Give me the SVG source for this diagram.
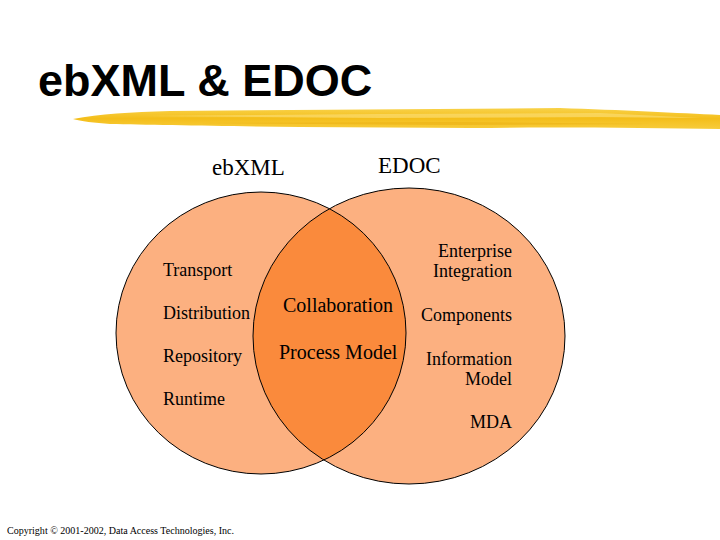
<svg xmlns="http://www.w3.org/2000/svg" width="720" height="540" viewBox="0 0 720 540">
<style>
.title{font-family:"Liberation Sans",Arial,sans-serif;font-weight:bold;font-size:45px;fill:#000}
.hdr{font-family:"Liberation Serif","Times New Roman",serif;font-size:23px;fill:#000}
.lbl{font-family:"Liberation Serif","Times New Roman",serif;font-size:18px;fill:#000}
.mid{font-family:"Liberation Serif","Times New Roman",serif;font-size:20px;fill:#000}
.r{text-anchor:end}
.copy{font-family:"Liberation Serif","Times New Roman",serif;font-size:10px;fill:#000}
.outline{fill:none;stroke:#000;stroke-width:1}
</style>
<defs>
<clipPath id="leftClip"><ellipse cx="261" cy="333" rx="145" ry="141"/></clipPath>
<linearGradient id="brush" x1="0" y1="0" x2="0" y2="1">
<stop offset="0" stop-color="#F8D24A"/>
<stop offset="0.5" stop-color="#F4BE1A"/>
<stop offset="1" stop-color="#F7CC3C"/>
</linearGradient>
</defs>
<rect width="720" height="540" fill="#fff"/>
<g id="title">
<text class="title" x="38" y="96">ebXML &amp; EDOC</text>
<path d="M73,119 C100,114 130,112 170,111 L560,108 C620,110 680,113 720,115 L720,129 C650,128 560,127 470,128 L300,127 C220,126 150,125 110,124 C95,123 80,121 73,119 Z" fill="url(#brush)"/>
<path d="M140,116 L380,114 L600,113 L700,118 L600,117 L380,118 Z" fill="#FBE07A" opacity="0.6"/>
<path d="M200,123 L450,122 L650,124 L450,125 Z" fill="#E9AE10" opacity="0.5"/>
</g>
<g id="ebxml-circle">
<ellipse cx="261" cy="333" rx="145" ry="141" fill="#FCB080"/>
</g>
<g id="edoc-circle">
<ellipse cx="409" cy="336" rx="156" ry="148" fill="#FCB080"/>
</g>
<g id="overlap">
<ellipse cx="409" cy="336" rx="156" ry="148" fill="#FA8A3C" clip-path="url(#leftClip)"/>
</g>
<g id="outlines">
<ellipse class="outline" cx="261" cy="333" rx="145" ry="141"/>
<ellipse class="outline" cx="409" cy="336" rx="156" ry="148"/>
</g>
<g id="headers">
<text class="hdr" x="212" y="175">ebXML</text>
<text class="hdr" x="378" y="173">EDOC</text>
</g>
<g id="ebxml-items">
<text class="lbl" x="163" y="276">Transport</text>
<text class="lbl" x="163" y="319">Distribution</text>
<text class="lbl" x="163" y="362">Repository</text>
<text class="lbl" x="163" y="405">Runtime</text>
</g>
<g id="shared-items">
<text class="mid" x="283" y="312">Collaboration</text>
<text class="mid" x="279" y="359">Process Model</text>
</g>
<g id="edoc-items">
<text class="lbl r" x="512" y="257">Enterprise</text>
<text class="lbl r" x="512" y="277">Integration</text>
<text class="lbl r" x="512" y="321">Components</text>
<text class="lbl r" x="512" y="365">Information</text>
<text class="lbl r" x="512" y="385">Model</text>
<text class="lbl r" x="512" y="428">MDA</text>
</g>
<text class="copy" x="7" y="534" textLength="227" lengthAdjust="spacingAndGlyphs">Copyright © 2001-2002, Data Access Technologies, Inc.</text>
</svg>
